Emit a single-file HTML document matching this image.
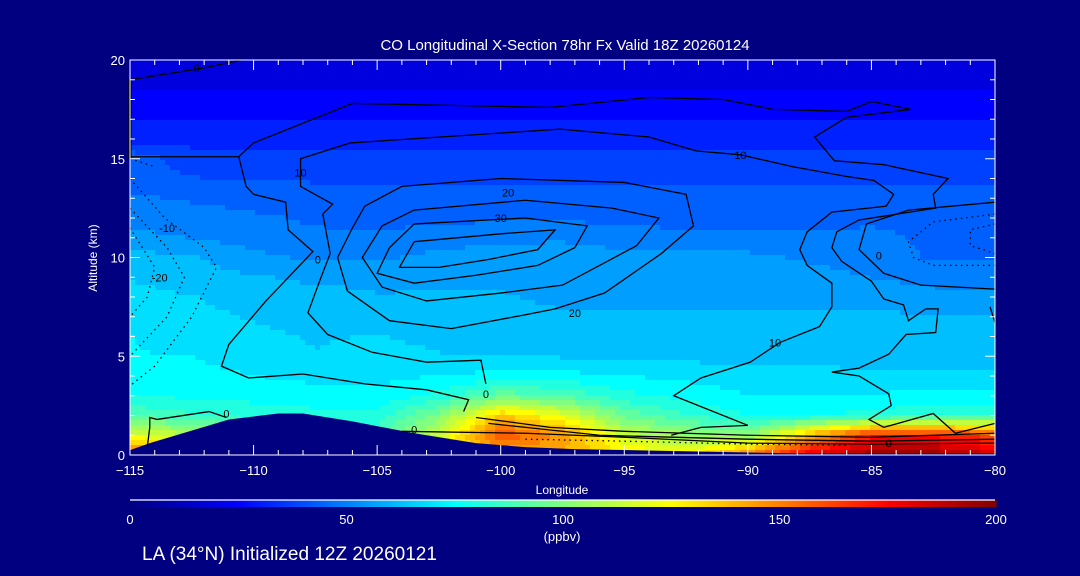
<!DOCTYPE html>
<html><head><meta charset="utf-8">
<style>
html,body{margin:0;padding:0;background:#000080;}
svg{display:block;}
text{font-family:"Liberation Sans",sans-serif;fill:#fff;}
</style></head>
<body>
<svg id="chart" width="1080" height="576" viewBox="0 0 1080 576" xmlns="http://www.w3.org/2000/svg">
<rect x="0" y="0" width="1080" height="576" fill="#000080"/>
<g id="field"></g>
<g id="terrain"></g>
<g id="contours"></g>
<g id="axes"></g>
<text x="565" y="50" font-size="15" text-anchor="middle">CO Longitudinal X-Section 78hr  Fx Valid 18Z 20260124</text>
<text x="97" y="258" font-size="12" text-anchor="middle" transform="rotate(-90 97 258)">Altitude (km)</text>
<text x="562" y="494" font-size="12" text-anchor="middle">Longitude</text>
<g id="cbar"></g>
<text x="562" y="541" font-size="13" text-anchor="middle">(ppbv)</text>
<text x="142" y="560" font-size="19">LA (34°N) Initialized 12Z 20260121</text>
</svg>
<script>
// ---- data ----
const lonCols = [-115,-112.5,-110,-107.5,-105,-102.5,-100,-97.5,-95,-92.5,-90,-87.5,-85,-82.5,-80];
const altRows = [0,1,2,3,4,5,6,7,8,9,10,11,12,13,14,15,16,17,18,19,20];
const coValues = [
 [160,140,120,110,110,120,140,140,130,125,150,180,195,195,185],
 [120,110,95,90,90,115,160,145,115,105,100,140,170,170,160],
 [90,85,82,80,80,100,135,120,95,85,78,78,80,85,85],
 [78,77,76,75,74,80,95,90,80,76,72,72,72,74,74],
 [74,74,72,70,70,72,74,74,72,70,68,68,68,68,68],
 [72,72,68,66,68,66,66,65,64,64,63,63,62,60,60],
 [72,70,67,65,66,64,64,62,62,62,62,62,62,62,62],
 [70,68,65,64,64,62,62,60,60,60,60,60,60,60,60],
 [68,66,62,62,60,60,60,58,58,58,58,58,58,56,56],
 [65,62,60,58,57,58,58,58,57,57,57,56,53,50,50],
 [62,60,55,52,52,55,56,57,55,55,55,52,50,46,46],
 [55,53,50,48,48,50,52,52,50,48,48,48,48,46,46],
 [50,50,48,46,45,45,46,46,45,45,45,45,46,46,46],
 [48,46,44,43,43,43,43,43,43,43,43,43,43,43,43],
 [44,41,40,40,40,40,40,40,40,40,40,40,40,40,40],
 [45,37,36,36,36,36,36,36,36,36,36,36,36,36,36],
 [32,32,32,32,32,32,32,32,32,32,32,32,32,32,32],
 [28,28,28,28,28,28,28,28,28,28,28,28,28,28,28],
 [24,24,24,24,24,24,24,24,24,24,24,24,24,24,24],
 [20,20,20,20,20,20,20,20,20,20,20,20,20,20,20],
 [18,18,18,18,18,18,18,18,18,18,18,18,18,18,18]
];
const terrainPts = [[-115,0.25],[-114.2,0.6],[-111,1.8],[-109,2.1],[-108,2.1],[-106,1.7],[-103.5,1.1],[-101,0.6],[-99,0.4],[-97,0.3],[-93,0.2],[-88,0.08],[-80,0.08]];
const xTicks = [-115,-110,-105,-100,-95,-90,-85,-80];
const yTicks = [0,5,10,15,20];
const cbarTicks = [0,50,100,150,200];
const solidContours = [
 [[-115,19],[-112,19.6],[-110.5,20]],
 [[-110.6,15.1],[-110,15.8],[-106,17.8],[-98,17.6],[-94,18.1],[-91,18],[-89,17.5],[-86,17.4],[-85,17.9],[-83.4,17.5],[-86,17.1],[-87.3,16.1],[-86.5,14.9],[-84.5,14.7],[-81.9,14],[-82.5,13.2],[-82.4,12.5],[-85.5,11.9],[-86.4,11.3],[-86.6,10.5],[-86.2,9.8],[-85,8.8],[-84.5,7.9],[-83.7,7.6],[-83.5,6.8],[-82.8,7.4],[-82.3,7.4],[-82.4,6.2],[-83.6,6.1],[-84.3,5.1],[-85.5,4.4],[-86.6,4.2],[-85.5,4],[-84.3,3.1],[-84.2,2.5],[-85.1,1.8],[-84.5,1.4],[-82.5,2.1],[-81.6,1.1],[-80,1.6]],
 [[-110.6,15.1],[-115,15.1]],
 [[-110.6,15.1],[-110.3,13.6],[-110,13.2],[-108.7,12.8],[-108.6,11.4],[-107.6,10.3],[-109.5,7.8],[-111,5.6],[-111.3,4.5],[-110.2,3.9],[-108,4.1],[-105.5,3.6],[-103,3.3],[-101.3,2.8],[-101.5,2.2]],
 [[-106.1,15.8],[-108.1,15.0],[-108.1,13.6],[-106.8,12.7],[-107.2,12.2],[-106.9,10.2],[-107.3,8.9],[-107.8,7.2],[-107,6.1],[-105.2,5.2],[-103,4.7],[-100.8,4.8],[-100.6,3.6]],
 [[-106.1,15.8],[-97.6,16.5],[-94,16.1],[-92.1,15.4],[-90.3,15.2],[-88.2,14.6],[-86,14.1],[-84.9,13.9],[-84.1,13.2],[-84.4,12.6],[-86.6,12.3],[-87.6,11.3],[-87.9,10.4],[-87.6,9.6],[-86.6,8.7],[-86.6,7.5],[-87.1,6.5],[-88.7,5.7],[-89.9,4.7],[-91.9,3.9],[-93,3],[-90,1.5],[-91.9,1.4],[-93.1,1]],
 [[-105.5,12.6],[-104,13.6],[-100,14],[-95,13.8],[-92.5,13.2],[-92.2,11.6],[-93.5,10.2],[-95.8,8.2],[-97.8,7.4],[-99,7.1],[-102,6.4],[-104.5,6.8],[-106.2,8.3],[-106.6,10],[-106,11.5],[-105.5,12.6]],
 [[-103.5,12.4],[-99,12.9],[-95.5,12.5],[-93.6,12],[-94.5,10.6],[-96,9.6],[-97.5,8.6],[-100,8.2],[-103,7.8],[-104.8,8.5],[-105.6,10],[-104.8,11.6],[-103.5,12.4]],
 [[-103.5,11.7],[-99,12],[-96.5,11.6],[-97,10.5],[-98.5,9.6],[-101,9.1],[-103.5,8.7],[-105,9.2],[-104.5,10.5],[-103.5,11.7]],
 [[-103.5,10.8],[-100,11.2],[-97.8,11.4],[-98.5,10.4],[-100.5,9.9],[-102.5,9.5],[-104.1,9.5],[-103.5,10.8]],
 [[-114.3,0.4],[-114.2,1.4],[-114.2,1.9],[-113.9,1.8],[-111.8,2.2],[-111.1,1.9]],
 [[-101,1.9],[-98,1.4],[-95,1.2],[-90,1.0],[-85,0.9],[-80,1.1]],
 [[-100.5,1.6],[-96,1.0],[-90,0.8],[-85,0.7],[-80,0.8]],
 [[-104,1.2],[-99,1.1],[-95,0.9],[-90,0.6],[-85,0.55],[-80,0.6]],
 [[-80,8.4],[-83,8.6],[-84.5,9.2],[-85.5,10.4],[-85.2,11.7],[-83.5,12.4],[-80,12.8]],
 [[-80.2,7.5],[-80,6.7]]
];
const dottedContours = [
 [[-115,14],[-113.6,12],[-112,10.5],[-111.5,9.5],[-112.5,7],[-114,4.5],[-115,3.5]],
 [[-115,12.5],[-113.5,10.5],[-112.8,9],[-113.5,7],[-115,5]],
 [[-115,11.5],[-114,9.5],[-114.3,8],[-115,7]],
 [[-115,15],[-114,14.6]],
 [[-80,12.2],[-82.5,11.8],[-83.5,10.8],[-83.3,10],[-82.5,9.6],[-80,9.6]],
 [[-80,11.7],[-81,11.4],[-81,10.6],[-80,10.2]],
 [[-99,0.8],[-95,0.7],[-90,0.55],[-86,0.5]]
];
const contourLabels = [["0",-112.3,19.6],["10",-108.1,14.3],["-10",-113.5,11.5],["-20",-113.8,9],["0",-107.4,9.9],["20",-99.7,13.3],["30",-100,12],["10",-90.3,15.2],["20",-97,7.2],["10",-88.9,5.7],["0",-84.7,10.1],["0",-100.6,3.1],["0",-111.1,2.1],["0",-103.5,1.3],["0",-84.3,0.6]];

// ---- axes ----
const X0=130,X1=995,Y0=455,Y1=60;
const xs=lon=>X0+(lon+115)/35*(X1-X0);
const ys=alt=>Y0-alt/20*(Y0-Y1);
const NS='http://www.w3.org/2000/svg';
function mk(tag,attrs,parent){const e=document.createElementNS(NS,tag);for(const k in attrs)e.setAttribute(k,attrs[k]);parent.appendChild(e);return e;}
function jet(v){
  let t=Math.max(0,Math.min(1,v/200));
  const stops=[[0,0,0,128],[0.125,0,0,255],[0.375,0,255,255],[0.5,128,255,128],[0.625,255,255,0],[0.875,255,0,0],[1,128,0,0]];
  for(let i=1;i<stops.length;i++){if(t<=stops[i][0]){const a=stops[i-1],b=stops[i],f=(t-a[0])/(b[0]-a[0]);return 'rgb('+Math.round(a[1]+(b[1]-a[1])*f)+','+Math.round(a[2]+(b[2]-a[2])*f)+','+Math.round(a[3]+(b[3]-a[3])*f)+')';}}
  return 'rgb(128,0,0)';
}
function sample(lon,alt){
  let ci=(lon-lonCols[0])/(lonCols[1]-lonCols[0]);ci=Math.max(0,Math.min(lonCols.length-1.0001,ci));
  let ri=(alt-altRows[0])/(altRows[1]-altRows[0]);ri=Math.max(0,Math.min(altRows.length-1.0001,ri));
  const c=Math.floor(ci),r=Math.floor(ri),fc=ci-c,fr=ri-r;
  const a=coValues[r][c],b=coValues[r][c+1],d=coValues[r+1][c],e=coValues[r+1][c+1];
  return (a*(1-fc)+b*fc)*(1-fr)+(d*(1-fc)+e*fc)*fr;
}
// field
const field=document.getElementById('field');
const cw=5,ch=5;
for(let py=Y1;py<Y0;py+=ch){
  for(let px=X0;px<X1;px+=cw){
    const lon=-115+(px+cw/2-X0)/(X1-X0)*35, alt=(Y0-(py+ch/2))/(Y0-Y1)*20;
    const v=Math.round(sample(lon,alt)/6.25)*6.25;
    const r=mk('rect',{x:px,y:py,width:Math.min(cw,X1-px)+0.5,height:ch+0.5,fill:jet(v)},field);
    
    
  }
}
// terrain
const terr=document.getElementById('terrain');
let tp=terrainPts.map(p=>xs(p[0])+','+ys(p[1])).join(' ')+' '+X1+','+(Y0+1)+' '+X0+','+(Y0+1);
const tpoly=mk('polygon',{points:tp,fill:'#000080'},terr);


// contours
const cg=document.getElementById('contours');
solidContours.forEach(c=>{
  const l=mk('polyline',{points:c.map(p=>xs(p[0])+','+ys(p[1])).join(' '),fill:'none',stroke:'#000','stroke-width':1.3},cg);
  
  
});
dottedContours.forEach(c=>{
  const l=mk('polyline',{points:c.map(p=>xs(p[0])+','+ys(p[1])).join(' '),fill:'none',stroke:'#000','stroke-width':1.3,'stroke-dasharray':'1.5 4'},cg);
  
  
});
contourLabels.forEach(c=>{
  const t=mk('text',{x:xs(c[1]),y:ys(c[2])+4,'font-size':11,'text-anchor':'middle',style:'fill:#000'},cg);
  t.textContent=c[0];
  
  
});
mk('line',{x1:X0,y1:ys(19),x2:X0,y2:ys(15),stroke:'#000','stroke-width':3},cg);
// axes
const ax=document.getElementById('axes');
const frame=mk('rect',{x:X0,y:Y1,width:X1-X0,height:Y0-Y1,fill:'none',stroke:'#fff','stroke-width':1},ax);


for(let lon=-115;lon<=-80;lon+=1){
  const major=(lon%5===0);
  mk('line',{x1:xs(lon),y1:Y0,x2:xs(lon),y2:Y0-(major?10:5),stroke:'#fff'},ax);
  mk('line',{x1:xs(lon),y1:Y1,x2:xs(lon),y2:Y1+(major?10:5),stroke:'#fff'},ax);
}
for(let a=0;a<=20;a+=1){
  const major=(a%5===0);
  mk('line',{x1:X0,y1:ys(a),x2:X0+(major?10:5),y2:ys(a),stroke:'#fff'},ax);
  mk('line',{x1:X1,y1:ys(a),x2:X1-(major?10:5),y2:ys(a),stroke:'#fff'},ax);
}
xTicks.forEach(v=>{
  const t=mk('text',{x:xs(v),y:475,'font-size':13,'text-anchor':'middle'},ax);
  t.textContent=String(v).replace('-','\u2212');
  
  
});
yTicks.forEach(v=>{
  const t=mk('text',{x:125,y:ys(v)+5,'font-size':13,'text-anchor':'end'},ax);
  t.textContent=v;
  
  
});
// colorbar
const cb=document.getElementById('cbar');
const cx=v=>130+v/200*(996-130);
for(let v=0;v<200;v+=1){
  const r=mk('rect',{x:cx(v),y:500,width:(996-130)/200+0.6,height:7,fill:jet(v+0.5)},cb);
  
  
}
mk('line',{x1:130,y1:500,x2:995,y2:500,stroke:'#fff','stroke-width':1.2},cb);
cbarTicks.forEach(v=>{
  const t=mk('text',{x:cx(v),y:524,'font-size':13,'text-anchor':'middle'},cb);
  t.textContent=v;
  
  
});
</script>
</body></html>
